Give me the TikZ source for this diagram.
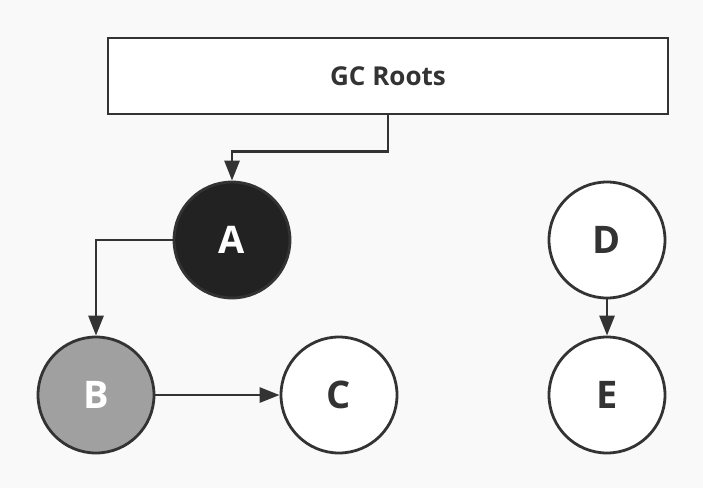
\documentclass[tikz,border=0pt]{standalone}
\usepackage{fontspec}
\setmainfont{Open Sans}[BoldFont={Open Sans Bold}]
\usetikzlibrary{arrows.meta}
\definecolor{bg}{HTML}{F9F9F9}
\definecolor{ln}{HTML}{333333}
\definecolor{darkfill}{HTML}{222222}
\definecolor{grayfill}{HTML}{A0A0A0}
\begin{document}
\begin{tikzpicture}[x=1pt,y=-1pt,
  obj/.style={circle,draw=ln,line width=2.8pt,minimum size=116pt,inner sep=0pt,font=\bfseries\fontsize{38}{42}\selectfont},
  link/.style={draw=ln,line width=2.8pt,-{Triangle[length=20pt,width=15pt]}}]
\fill[bg] (0,0) rectangle (703,488);
\useasboundingbox (0,0) rectangle (703,488);
\node[draw=ln,line width=2.8pt,fill=white,minimum width=560pt,minimum height=76pt,inner sep=0pt,font=\bfseries\fontsize{26}{30}\selectfont,text=ln] (gc) at (388,76) {GC Roots};
\node[obj,fill=darkfill,text=white] (A) at (232,240) {A};
\node[obj,fill=grayfill,text=white] (B) at (96,395) {B};
\node[obj,fill=white,text=ln] (C) at (339,395) {C};
\node[obj,fill=white,text=ln] (D) at (607,240) {D};
\node[obj,fill=white,text=ln] (E) at (607,395) {E};
\draw[link] (gc.south) -- ++(0,36) -| (A.north);
\draw[link] (A.west) -| (B.north);
\draw[link] (B.east) -- (C.west);
\draw[link] (D.south) -- (E.north);
\end{tikzpicture}
\end{document}
